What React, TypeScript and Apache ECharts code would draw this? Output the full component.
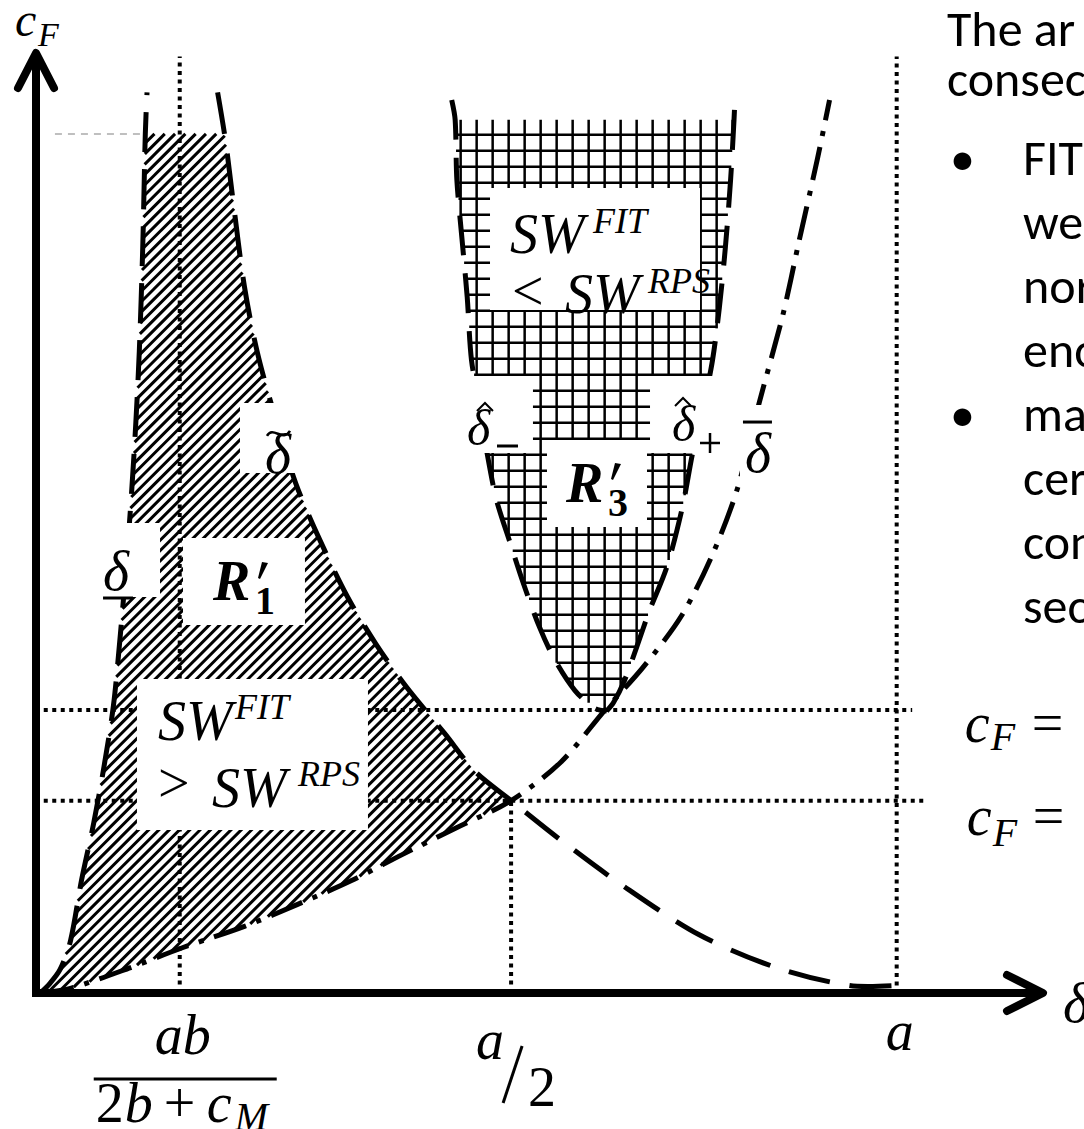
import React, { useEffect, useRef } from "react";
import * as echarts from "echarts";

type Pt = [number, number];

// ---- axis extents (data units, a = 10) ----
const X_MAX = 11.7;
const Y_MAX = 10;

// ---- tick positions / levels ----
const tickAB = 1.67; // ab / (2b + c_M)
const tickHalfA = 5.52; // a / 2
const tickA = 10; // a
const cFUpper = 3.0;
const cFLower = 2.04;
const hatchTop = 9.11;
const gridTop = 9.26;

// ---- curves ----
const deltaUnder: Pt[] = [
  [0.05, 0], [0.16, 0.1], [0.28, 0.25], [0.4, 0.55], [0.53, 1.2], [0.67, 1.8],
  [0.79, 2.4], [0.9, 3.05], [0.98, 3.8], [1.05, 4.55], [1.11, 5.3], [1.16, 6.05],
  [1.2, 6.8], [1.24, 7.9], [1.27, 9.11], [1.29, 9.55],
];
const deltaTilde: Pt[] = [
  [2.11, 9.55], [2.2, 9.05], [2.29, 8.4], [2.42, 7.5], [2.57, 6.8], [2.78, 6.1],
  [3.02, 5.4], [3.3, 4.8], [3.62, 4.2], [3.95, 3.7], [4.3, 3.25], [4.75, 2.75],
  [5.1, 2.35], [5.52, 2.04], [6.1, 1.62], [6.8, 1.15], [7.7, 0.62], [8.6, 0.27],
  [9.45, 0.08], [10.0, 0.08],
];
const deltaBar: Pt[] = [
  [0.05, 0], [0.4, 0.05], [1.1, 0.27], [1.7, 0.48], [2.43, 0.71], [3.04, 0.94],
  [3.66, 1.19], [4.26, 1.47], [4.88, 1.75], [5.52, 2.04], [6.1, 2.45], [6.61, 3.0],
  [7.05, 3.45], [7.5, 4.0], [7.86, 4.65], [8.15, 5.35], [8.4, 6.25], [8.68, 7.2],
  [8.86, 7.95], [9.08, 8.85], [9.22, 9.47],
];
const deltaHatMinus: Pt[] = [
  [4.83, 9.47], [4.87, 9.26], [4.89, 8.62], [4.95, 7.99], [5.01, 7.38], [5.06, 6.71],
  [5.16, 6.2], [5.24, 5.73], [5.35, 5.23], [5.51, 4.77], [5.66, 4.35], [5.85, 3.88],
  [6.03, 3.53], [6.26, 3.21], [6.49, 3.02], [6.63, 2.99],
];
const deltaHatPlus: Pt[] = [
  [6.63, 2.99], [6.71, 3.08], [6.84, 3.32], [6.98, 3.67], [7.13, 4.06], [7.33, 4.52],
  [7.51, 5.15], [7.63, 5.73], [7.76, 6.25], [7.86, 6.71], [7.94, 7.27], [8.01, 7.91],
  [8.07, 8.62], [8.11, 9.26], [8.12, 9.47],
];

// ---- dotted guides [x0, y0, x1, y1] ----
const guides: number[][] = [
  [tickAB, 0, tickAB, 9.93],
  [tickHalfA, 0, tickHalfA, cFLower],
  [tickA, 0.08, tickA, 9.93],
  [0.09, cFUpper, 10.18, cFUpper],
  [0.09, cFLower, 10.32, cFLower],
];
const topGuide: number[] = [0.22, hatchTop, 1.24, hatchTop];

// ---- label boxes [x0, yTop, x1, yBottom] ----
const boxSW1 = [1.173, 3.33, 3.857, 1.729];
const boxR1 = [1.708, 4.825, 3.125, 3.902];
const boxTilde = [2.37, 6.257, 3.067, 5.514];
const boxUnder = [0.744, 4.984, 1.441, 4.199];
const boxSW3 = [5.275, 8.537, 7.715, 7.243];
const boxHatMinus = [4.868, 6.543, 5.774, 5.726];
const boxHatPlus = [7.134, 6.543, 8.179, 5.726];
const boxR3 = [5.937, 5.864, 7.099, 4.942];
const boxBar = [8.179, 6.235, 8.621, 5.461];

// ---- right-hand text (cut by the page edge) ----
const introLines = ["The ar", "consec"];
const bulletOne = ["FIT", "we", "nor", "enc"];
const bulletTwo = ["ma", "cer", "con", "sec"];

const MATH = '"Liberation Serif", "DejaVu Serif", serif';
const SANS = 'Carlito, Lato, "Open Sans", sans-serif';

function cutBelow(c: Pt[], level: number): Pt[] {
  const out: Pt[] = [];
  for (let i = 0; i < c.length; i++) {
    const p = c[i];
    if (i > 0) {
      const q = c[i - 1];
      if ((q[1] <= level) !== (p[1] <= level)) {
        const t = (level - q[1]) / (p[1] - q[1]);
        out.push([q[0] + t * (p[0] - q[0]), level]);
      }
    }
    if (p[1] <= level) out.push(p);
  }
  return out;
}

function scan(
  poly: number[][],
  f: (p: number[]) => number,
  g: (p: number[]) => number,
  start: number,
  step: number
): number[][][] {
  const vals = poly.map(f);
  const lo = Math.min(...vals);
  const hi = Math.max(...vals);
  const segs: number[][][] = [];
  let c = start + Math.ceil((lo - start) / step) * step;
  for (; c <= hi; c += step) {
    const hits: number[][] = [];
    for (let i = 0; i < poly.length; i++) {
      const a = poly[i];
      const b = poly[(i + 1) % poly.length];
      const fa = f(a) - c;
      const fb = f(b) - c;
      if ((fa < 0) !== (fb < 0)) {
        const t = fa / (fa - fb);
        hits.push([a[0] + t * (b[0] - a[0]), a[1] + t * (b[1] - a[1])]);
      }
    }
    hits.sort((p, q) => g(p) - g(q));
    for (let k = 0; k + 1 < hits.length; k += 2) segs.push([hits[k], hits[k + 1]]);
  }
  return segs;
}

function T(
  s: string,
  x: number,
  y: number,
  size: number,
  opt: { italic?: boolean; bold?: boolean; align?: string; family?: string; lh?: number } = {}
) {
  const align = opt.align || "left";
  return {
    type: "text",
    x,
    y,
    silent: true,
    style: {
      text: s,
      font: `${opt.italic ? "italic " : ""}${opt.bold ? "bold " : ""}${size}px ${opt.family || MATH}`,
      fill: "#000",
      lineHeight: opt.lh || Math.round(size * 0.8),
      align,
      verticalAlign: "middle",
      textAlign: align,
      textVerticalAlign: "middle",
    },
  };
}

function L(a: number[], b: number[], width: number, dash?: number[], color = "#000", cap = "butt") {
  return {
    type: "line",
    silent: true,
    shape: { x1: a[0], y1: a[1], x2: b[0], y2: b[1] },
    style: { stroke: color, lineWidth: width, lineDash: dash || null, lineCap: cap, fill: null },
  };
}

const renderItem = (_params: any, api: any) => {
  const P = (p: number[]) => api.coord(p) as number[];
  const kids: any[] = [];

  // hatched region R'1
  const r1Poly: number[][] = [
    ...cutBelow(deltaUnder, hatchTop),
    ...cutBelow(deltaTilde, hatchTop).filter((p) => p[0] <= tickHalfA + 1e-9),
    ...deltaBar.filter((p) => p[0] <= tickHalfA + 1e-9).reverse(),
  ].map(P);
  scan(r1Poly, (p) => p[0] + p[1], (p) => p[0], 0, 10.3).forEach((s) =>
    kids.push(L(s[0], s[1], 3))
  );

  // grid region R'3
  const r3Poly: number[][] = [
    ...cutBelow(deltaHatMinus, gridTop),
    ...cutBelow(deltaHatPlus, gridTop),
  ].map(P);
  const r3TopLeft = P(cutBelow(deltaHatMinus, gridTop)[0]);
  scan(r3Poly, (p) => p[0], (p) => p[1], r3TopLeft[0] + 5.5, 16).forEach((s) =>
    kids.push(L(s[0], s[1], 2.5))
  );
  scan(r3Poly, (p) => p[1], (p) => p[0], r3TopLeft[1] + 15, 16).forEach((s) =>
    kids.push(L(s[0], s[1], 2.5))
  );

  // dotted guides
  guides.forEach((g) => kids.push(L(P([g[0], g[1]]), P([g[2], g[3]]), 4, [4, 4.5])));
  kids.push(L(P([topGuide[0], topGuide[1]]), P([topGuide[2], topGuide[3]]), 1.5, [7, 6], "#aaaaaa"));

  // curves
  const curve = (c: Pt[], dash: number[] | null, width = 5) =>
    kids.push({
      type: "polyline",
      silent: true,
      shape: { points: c.map(P), smooth: 0.3 },
      style: { stroke: "#000", lineWidth: width, lineDash: dash, fill: null },
    });
  curve(deltaUnder.slice(0, 3), null, 2);
  curve(deltaUnder, [40, 17]);
  curve(deltaTilde, [42, 20]);
  curve(deltaHatMinus, [40, 18]);
  curve(deltaHatPlus, [40, 18]);
  curve(deltaBar, [34, 11, 5, 11]);

  // axes with open arrow heads
  const o = P([0, 0]);
  const xe = P([X_MAX, 0]);
  const ye = P([0, Y_MAX]);
  kids.push(L([o[0] - 4, o[1]], [xe[0] - 2, xe[1]], 8));
  kids.push(L([o[0], o[1] + 4], [ye[0], ye[1] + 5], 8));
  kids.push({
    type: "polyline",
    silent: true,
    shape: { points: [[xe[0] - 36, xe[1] - 18], [xe[0], xe[1]], [xe[0] - 36, xe[1] + 18]] },
    style: { stroke: "#000", lineWidth: 8, lineCap: "round", lineJoin: "round", fill: null },
  });
  kids.push({
    type: "polyline",
    silent: true,
    shape: { points: [[ye[0] - 18, ye[1] + 38], [ye[0], ye[1] + 3], [ye[0] + 18, ye[1] + 38]] },
    style: { stroke: "#000", lineWidth: 8, lineCap: "round", lineJoin: "round", fill: null },
  });

  // white label boxes
  const box = (b: number[]) => {
    const a = P([b[0], b[1]]);
    const c = P([b[2], b[3]]);
    kids.push({
      type: "rect",
      silent: true,
      shape: { x: a[0], y: a[1], width: c[0] - a[0], height: c[1] - a[1] },
      style: { fill: "#ffffff", stroke: null },
    });
    return a;
  };
  const hat = (x: number, y: number) =>
    kids.push({
      type: "polyline",
      silent: true,
      shape: { points: [[x - 8, y + 4], [x, y - 4], [x + 8, y + 4]] },
      style: { stroke: "#000", lineWidth: 2, fill: null },
    });
  const prime = (x: number, y: number) =>
    kids.push({
      type: "polygon",
      silent: true,
      shape: { points: [[x + 3, y], [x + 9, y + 1], [x + 1, y + 17], [x - 1, y + 16]] },
      style: { fill: "#000", stroke: null },
    });

  const s1 = box(boxSW1);
  kids.push(T("SW", s1[0] + 21, s1[1] + 42, 56, { italic: true }));
  kids.push(T("FIT", s1[0] + 98, s1[1] + 28, 36, { italic: true }));
  kids.push(T(">", s1[0] + 21, s1[1] + 104, 56));
  kids.push(T("SW", s1[0] + 75, s1[1] + 109, 56, { italic: true }));
  kids.push(T("RPS", s1[0] + 161, s1[1] + 95, 36, { italic: true }));

  const rb1 = box(boxR1);
  kids.push(T("R", rb1[0] + 30, rb1[1] + 43, 56, { italic: true, bold: true }));
  prime(rb1[0] + 76, rb1[1] + 24);
  kids.push(T("1", rb1[0] + 72, rb1[1] + 62, 40, { bold: true }));

  const tb = box(boxTilde);
  kids.push(T("\u03b4", tb[0] + 25, tb[1] + 51, 56, { italic: true }));
  kids.push({
    type: "bezierCurve",
    silent: true,
    shape: {
      x1: tb[0] + 27, y1: tb[1] + 33, x2: tb[0] + 50, y2: tb[1] + 28,
      cpx1: tb[0] + 33, cpy1: tb[1] + 22, cpx2: tb[0] + 43, cpy2: tb[1] + 40,
    },
    style: { stroke: "#000", lineWidth: 2.5, fill: null },
  });

  const ub = box(boxUnder);
  kids.push(T("\u03b4", ub[0] + 3, ub[1] + 48, 56, { italic: true }));
  kids.push(L([ub[0] + 3, ub[1] + 75], [ub[0] + 33, ub[1] + 75], 3));

  const s3 = box(boxSW3);
  kids.push(T("SW", s3[0] + 20, s3[1] + 46, 56, { italic: true }));
  kids.push(T("FIT", s3[0] + 103, s3[1] + 33, 36, { italic: true }));
  kids.push(T("<", s3[0] + 22, s3[1] + 103, 56));
  kids.push(T("SW", s3[0] + 75, s3[1] + 106, 56, { italic: true }));
  kids.push(T("RPS", s3[0] + 158, s3[1] + 93, 36, { italic: true }));

  const hm = box(boxHatMinus);
  kids.push(T("\u03b4", hm[0] + 12, hm[1] + 52, 50, { italic: true }));
  hat(hm[0] + 30, hm[1] + 31);
  kids.push(L([hm[0] + 42, hm[1] + 70], [hm[0] + 63, hm[1] + 70], 3));

  const hp = box(boxHatPlus);
  kids.push(T("\u03b4", hp[0] + 22, hp[1] + 48, 50, { italic: true }));
  hat(hp[0] + 33, hp[1] + 26);
  kids.push(L([hp[0] + 50, hp[1] + 67], [hp[0] + 70, hp[1] + 67], 2.5));
  kids.push(L([hp[0] + 60, hp[1] + 57], [hp[0] + 60, hp[1] + 77], 2.5));

  const rb3 = box(boxR3);
  kids.push(T("R", rb3[0] + 19, rb3[1] + 43, 56, { italic: true, bold: true }));
  prime(rb3[0] + 65, rb3[1] + 23);
  kids.push(T("3", rb3[0] + 61, rb3[1] + 62, 40, { bold: true }));

  const bb = box(boxBar);
  kids.push(L([bb[0] + 3, bb[1] + 17], [bb[0] + 32, bb[1] + 17], 3));
  kids.push(T("\u03b4", bb[0] + 5, bb[1] + 48, 56, { italic: true }));

  // axis titles
  kids.push(T("c", ye[0] - 21, ye[1] - 31, 48, { italic: true }));
  kids.push(T("F", ye[0] + 2, ye[1] - 16, 34, { italic: true }));
  kids.push(T("\u03b4", xe[0] + 20, xe[1] + 10, 56, { italic: true }));

  // tick labels
  const ab = P([tickAB, 0]);
  kids.push(T("ab", ab[0] + 3, ab[1] + 42, 56, { italic: true, align: "center" }));
  kids.push(L([ab[0] - 86, ab[1] + 86], [ab[0] + 97, ab[1] + 86], 3));
  kids.push(T("2", ab[0] - 84, ab[1] + 110, 56));
  kids.push(T("b", ab[0] - 55, ab[1] + 110, 56, { italic: true }));
  kids.push(T("+", ab[0] - 16, ab[1] + 110, 56));
  kids.push(T("c", ab[0] + 27, ab[1] + 110, 56, { italic: true }));
  kids.push(T("M", ab[0] + 55, ab[1] + 123, 40, { italic: true }));

  const ha = P([tickHalfA, 0]);
  kids.push(T("a", ha[0] - 35, ha[1] + 47, 56, { italic: true }));
  kids.push(L([ha[0] - 8, ha[1] + 110], [ha[0] + 11, ha[1] + 53], 3));
  kids.push(T("2", ha[0] + 17, ha[1] + 94, 56));

  const aa = P([tickA, 0]);
  kids.push(T("a", aa[0] + 3, aa[1] + 38, 56, { italic: true, align: "center" }));

  // c_F = labels at the two levels
  const up = P([tickA, cFUpper]);
  kids.push(T("c", up[0] + 68, up[1] + 13, 56, { italic: true }));
  kids.push(T("F", up[0] + 94, up[1] + 26, 40, { italic: true }));
  kids.push(T("=", up[0] + 135, up[1] + 13, 56));
  const lw = P([tickA, cFLower]);
  kids.push(T("c", lw[0] + 70, lw[1] + 15, 56, { italic: true }));
  kids.push(T("F", lw[0] + 96, lw[1] + 32, 40, { italic: true }));
  kids.push(T("=", lw[0] + 136, lw[1] + 15, 56));

  return { type: "group", children: kids };
};

function paragraph() {
  const els: any[] = [];
  const size = 50;
  const introY = [28, 78];
  introLines.forEach((s, i) => els.push(T(s, 947, introY[i], size, { family: SANS, lh: 48 })));
  const b1 = [157, 221, 285, 349];
  bulletOne.forEach((s, i) => els.push(T(s, 1023, b1[i], size, { family: SANS, lh: 56 })));
  els.push(T("\u2022", 950, b1[0], size, { family: SANS, lh: 56 }));
  const b2 = [413, 477, 541, 605];
  bulletTwo.forEach((s, i) => els.push(T(s, 1023, b2[i], size, { family: SANS, lh: 56 })));
  els.push(T("\u2022", 950, b2[0], size, { family: SANS, lh: 56 }));
  return els;
}

export default function App() {
  const ref = useRef<HTMLDivElement>(null);
  useEffect(() => {
    if (!ref.current) return;
    const chart = echarts.init(ref.current, undefined, { renderer: "svg" });
    chart.setOption({
      animation: false,
      backgroundColor: "#ffffff",
      grid: { left: 36, right: 41, top: 50, bottom: 136 },
      xAxis: { type: "value", min: 0, max: X_MAX, show: false },
      yAxis: { type: "value", min: 0, max: Y_MAX, show: false },
      graphic: { elements: paragraph() },
      series: [
        {
          type: "custom",
          coordinateSystem: "cartesian2d",
          data: [[0, 0]],
          clip: false,
          silent: true,
          renderItem,
        },
      ],
    });
    return () => chart.dispose();
  }, []);
  return (
    <div
      ref={ref}
      style={{ position: "absolute", left: 0, top: 0, width: 1084, height: 1129, overflow: "hidden" }}
    />
  );
}
